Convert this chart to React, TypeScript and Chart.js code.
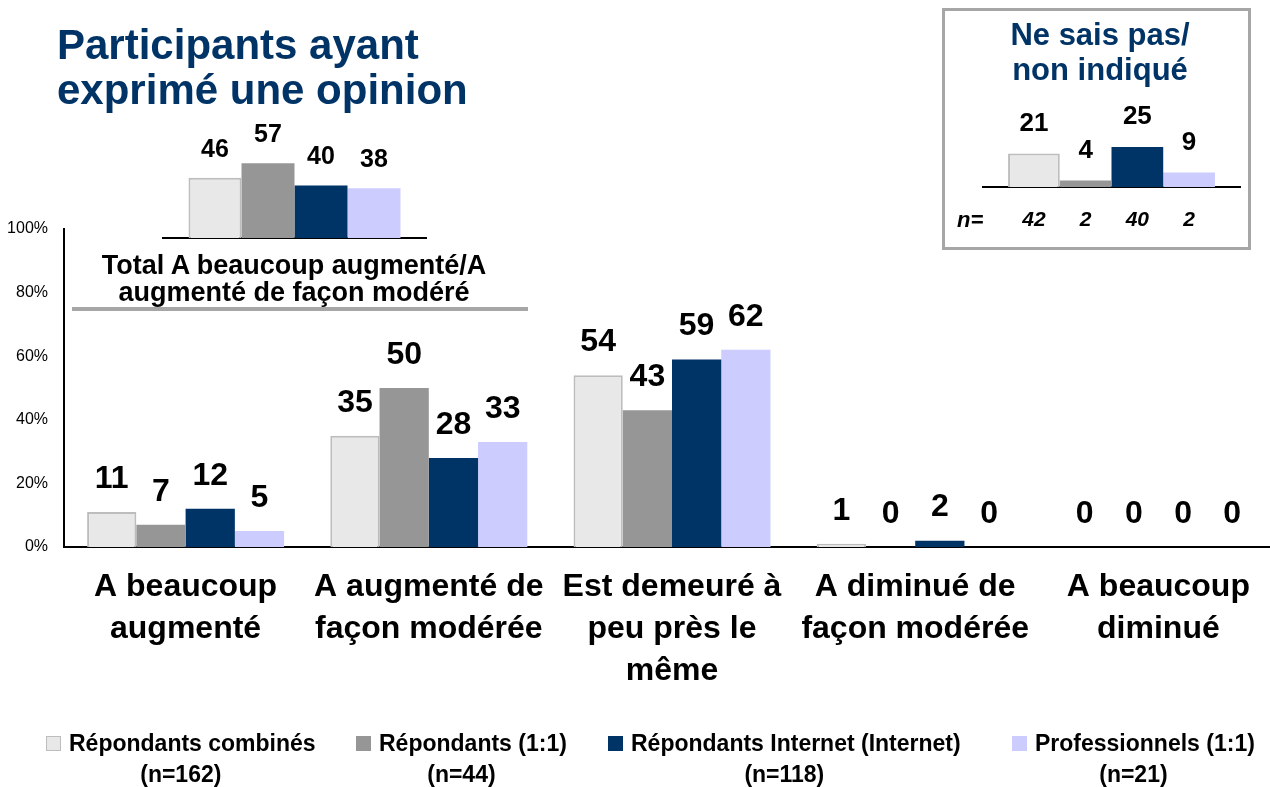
import React, { useEffect, useRef } from "react";
import { Chart, registerables } from "chart.js";

Chart.register(...registerables);

// ---------- DATA ----------
const categories: string[][] = [
  ["A beaucoup", "augmenté"],
  ["A augmenté de", "façon modérée"],
  ["Est demeuré à", "peu près le", "même"],
  ["A diminué de", "façon modérée"],
  ["A beaucoup", "diminué"],
];
const seriesNames = [
  "Répondants combinés",
  "Répondants (1:1)",
  "Répondants Internet (Internet)",
  "Professionnels (1:1)",
];
const seriesN = ["(n=162)", "(n=44)", "(n=118)", "(n=21)"];
const combined = [11, 35, 54, 1, 0];
const oneToOne = [7, 50, 43, 0, 0];
const internet = [12, 28, 59, 2, 0];
const professionals = [5, 33, 62, 0, 0];
const yTicks = [0, 20, 40, 60, 80, 100];

const totalIncreased = [46, 57, 40, 38];
const totalLabel = ["Total A beaucoup augmenté/A", "augmenté de façon modéré"];

const dontKnow = [21, 4, 25, 9];
const dontKnowN = ["42", "2", "40", "2"];
const dontKnowTitle = ["Ne sais pas/", "non indiqué"];
const mainTitle = ["Participants ayant", "exprimé une opinion"];

// ---------- STYLES ----------
const FONT = '"Liberation Sans", Arial, Helvetica, sans-serif';
const NAVY = "#003366";
const fills = ["#E8E8E8", "#969696", "#003366", "#CCCCFF"];
const borders = ["#BDBDBD", "#969696", "#003366", "#CCCCFF"];
const borderWidths = [2, 0, 0, 0];

const valueLabels = {
  id: "valueLabels",
  afterDatasetsDraw(chart: any, _args: any, opts: any) {
    const ctx = chart.ctx;
    ctx.save();
    ctx.font = opts.labelFont;
    ctx.fillStyle = "#000";
    ctx.textAlign = "center";
    ctx.textBaseline = "middle";
    chart.data.datasets.forEach((ds: any, i: number) => {
      const meta = chart.getDatasetMeta(i);
      meta.data.forEach((el: any, j: number) => {
        ctx.fillText(String(ds.data[j]), el.x, el.y - opts.offset);
      });
    });
    if (opts.nLabels) {
      ctx.font = opts.nFont;
      chart.data.datasets.forEach((_ds: any, i: number) => {
        const el = chart.getDatasetMeta(i).data[0];
        ctx.fillText(opts.nLabels[i], el.x, chart.chartArea.bottom + opts.nOffset);
      });
    }
    ctx.restore();
  },
};

function makeDatasets(values: number[][], catPct: number) {
  return values.map((d, i) => ({
    label: seriesNames[i],
    data: d,
    backgroundColor: fills[i],
    borderColor: borders[i],
    borderWidth: borderWidths[i],
    barPercentage: 1,
    categoryPercentage: catPct,
  }));
}

function insetConfig(values: number[], max: number, padding: any, catPct: number, pluginOpts: any): any {
  return {
    type: "bar",
    data: {
      labels: [""],
      datasets: makeDatasets(values.map((v) => [v]), catPct),
    },
    options: {
      responsive: false,
      animation: false,
      layout: { padding },
      plugins: { legend: { display: false }, tooltip: { enabled: false }, valueLabels: pluginOpts },
      scales: {
        x: {
          display: true,
          grid: { display: false, drawTicks: false },
          border: { display: true, color: "#000", width: 2 },
          ticks: { display: false },
          afterFit: (s: any) => {
            s.height = 0;
          },
        },
        y: { display: false, min: 0, max },
      },
    },
    plugins: [valueLabels],
  };
}

export default function App() {
  const mainRef = useRef<HTMLCanvasElement>(null);
  const totalRef = useRef<HTMLCanvasElement>(null);
  const dkRef = useRef<HTMLCanvasElement>(null);

  useEffect(() => {
    const main = new Chart(mainRef.current!, {
      type: "bar",
      data: {
        labels: categories as any,
        datasets: makeDatasets([combined, oneToOne, internet, professionals], 0.81),
      },
      options: {
        responsive: false,
        animation: false,
        layout: { padding: { top: 229, left: 0, right: 10, bottom: 0 } },
        plugins: {
          legend: { display: false },
          tooltip: { enabled: false },
          valueLabels: { labelFont: `bold 32px ${FONT}`, offset: 33 },
        } as any,
        scales: {
          x: {
            grid: { display: false, drawTicks: false },
            border: { display: true, color: "#000", width: 2 },
            ticks: {
              color: "#000",
              font: { family: FONT, size: 32, weight: "bold", lineHeight: 1.3125 },
              padding: 19,
              maxRotation: 0,
              autoSkip: false,
            },
            afterFit: (s: any) => {
              s.height = 240;
            },
          },
          y: {
            min: 0,
            max: 100,
            grid: { display: false, drawTicks: false },
            border: { display: true, color: "#000", width: 2 },
            ticks: {
              color: "#000",
              font: { family: FONT, size: 16 },
              padding: 16,
              callback: (v: any) => v + "%",
            },
            afterBuildTicks: (s: any) => {
              s.ticks = yTicks.map((v) => ({ value: v }));
            },
            afterFit: (s: any) => {
              s.width = 64;
            },
          },
        },
      },
      plugins: [valueLabels as any],
    });

    const total = new Chart(
      totalRef.current!,
      insetConfig(totalIncreased, 100, { left: 33, right: 34, top: 27, bottom: 12 }, 0.806, {
        labelFont: `bold 25px ${FONT}`,
        offset: 28,
      })
    );

    const dk = new Chart(
      dkRef.current!,
      insetConfig(dontKnow, 40, { left: 38, right: 5, top: 38, bottom: 58 }, 0.805, {
        labelFont: `bold 26px ${FONT}`,
        offset: 30,
        nLabels: dontKnowN,
        nFont: `italic bold 21px ${FONT}`,
        nOffset: 33,
      })
    );

    return () => {
      main.destroy();
      total.destroy();
      dk.destroy();
    };
  }, []);

  const legendLefts = [46, 356, 608, 1012];

  return (
    <div
      style={{
        position: "absolute",
        left: 0,
        top: 0,
        width: 1270,
        height: 787,
        overflow: "hidden",
        background: "#fff",
        fontFamily: FONT,
      }}
    >
      <canvas
        ref={mainRef}
        width={1290}
        height={787}
        style={{ position: "absolute", left: 0, top: 0, width: 1290, height: 787 }}
      />
      <canvas
        ref={totalRef}
        width={330}
        height={170}
        style={{ position: "absolute", left: 130, top: 80, width: 330, height: 170 }}
      />
      {/* Main title */}
      <div
        style={{
          position: "absolute",
          left: 57,
          top: 22,
          fontSize: 42,
          lineHeight: "45px",
          fontWeight: "bold",
          color: NAVY,
          whiteSpace: "nowrap",
        }}
      >
        {mainTitle.map((t, i) => (
          <div key={i}>{t}</div>
        ))}
      </div>
      {/* Total label */}
      <div
        style={{
          position: "absolute",
          left: 94,
          width: 400,
          top: 252,
          textAlign: "center",
          fontSize: 27,
          lineHeight: "27px",
          fontWeight: "bold",
          color: "#000",
          whiteSpace: "nowrap",
        }}
      >
        {totalLabel.map((t, i) => (
          <div key={i}>{t}</div>
        ))}
      </div>
      <div style={{ position: "absolute", left: 72, top: 307, width: 456, height: 4, background: "#A6A6A6" }} />
      {/* Don't know box */}
      <div
        style={{
          position: "absolute",
          left: 942,
          top: 8,
          width: 309,
          height: 242,
          border: "3px solid #A6A6A6",
          boxSizing: "border-box",
        }}
      />
      <div
        style={{
          position: "absolute",
          left: 1000,
          width: 200,
          top: 17,
          textAlign: "center",
          fontSize: 31,
          lineHeight: "35px",
          fontWeight: "bold",
          color: NAVY,
          whiteSpace: "nowrap",
        }}
      >
        {dontKnowTitle.map((t, i) => (
          <div key={i}>{t}</div>
        ))}
      </div>
      <canvas
        ref={dkRef}
        width={300}
        height={160}
        style={{ position: "absolute", left: 945, top: 85, width: 300, height: 160 }}
      />
      <div
        style={{
          position: "absolute",
          left: 957,
          top: 207,
          fontSize: 22,
          lineHeight: "26px",
          fontWeight: "bold",
          fontStyle: "italic",
          color: "#000",
        }}
      >
        n=
      </div>
      {/* Legend */}
      {seriesNames.map((name, i) => (
        <div
          key={i}
          style={{
            position: "absolute",
            left: legendLefts[i],
            top: 728,
            fontSize: 23,
            lineHeight: "31px",
            fontWeight: "bold",
            color: "#000",
            whiteSpace: "nowrap",
          }}
        >
          <div style={{ display: "flex", alignItems: "center" }}>
            <span
              style={{
                display: "inline-block",
                width: 15,
                height: 15,
                marginRight: 8,
                background: fills[i],
                border: borderWidths[i] ? `1.5px solid ${borders[i]}` : "none",
                boxSizing: "border-box",
              }}
            />
            <span>{name}</span>
          </div>
          <div style={{ textAlign: "center" }}>{seriesN[i]}</div>
        </div>
      ))}
    </div>
  );
}
